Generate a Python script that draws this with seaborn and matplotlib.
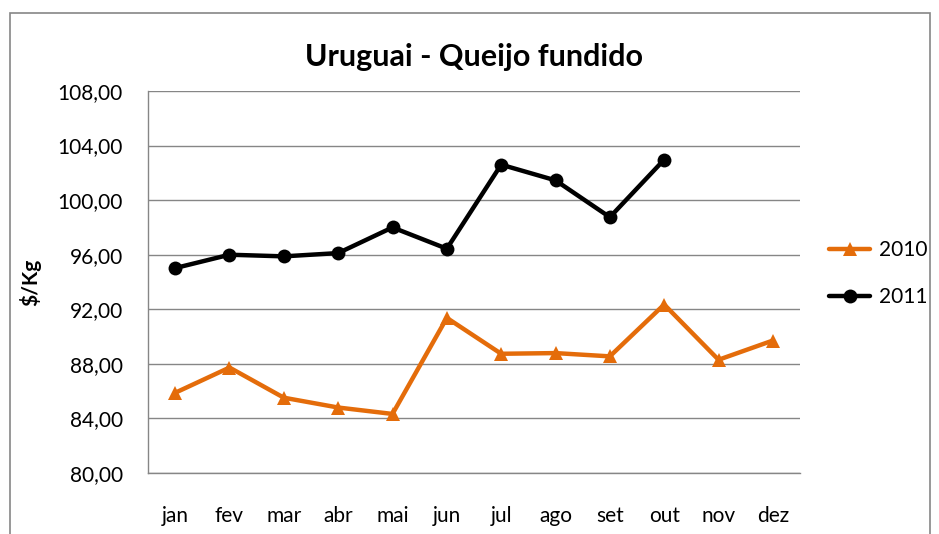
import pandas as pd
import numpy as np
import seaborn as sns
import matplotlib.pyplot as plt
from matplotlib.patches import Rectangle

# -------------------------------
# Data
# -------------------------------
months = ["jan", "fev", "mar", "abr", "mai", "jun", "jul", "ago", "set", "out", "nov", "dez"]
vals_2010 = [85.88, 87.73, 85.52, 84.80, 84.33, 91.37, 88.74, 88.79, 88.55, 92.35, 88.30, 89.71]
vals_2011 = [95.02, 96.00, 95.88, 96.12, 98.00, 96.44, 102.60, 101.45, 98.75, 102.97]
yticks = [80, 84, 88, 92, 96, 100, 104, 108]

rows = []
for i, v in enumerate(vals_2010):
    rows.append({"mes": i, "valor": v, "ano": "2010"})
for i, v in enumerate(vals_2011):
    rows.append({"mes": i, "valor": v, "ano": "2011"})
df = pd.DataFrame(rows)

# -------------------------------
# Plot
# -------------------------------
sns.set_style("white")
plt.rcParams["font.family"] = ["Lato", "DejaVu Sans"]
plt.rcParams["text.color"] = "black"
plt.rcParams["xtick.labelcolor"] = "black"
plt.rcParams["ytick.labelcolor"] = "black"
plt.rcParams["axes.labelcolor"] = "black"

fig = plt.figure(figsize=(9.39, 5.34), dpi=100)
ax = fig.add_axes([0.1576, 0.1142, 0.6944, 0.7154])

sns.lineplot(data=df, x="mes", y="valor", hue="ano", style="ano",
             palette={"2010": "#E46C0A", "2011": "#000000"},
             markers={"2010": "^", "2011": "o"}, dashes=False,
             linewidth=3.2, markersize=10, markeredgewidth=0, ax=ax)

ax.set_xlim(-0.5, 11.5)
ax.set_ylim(80, 108)
ax.set_yticks(yticks)
ax.set_yticklabels([f"{t:.2f}".replace(".", ",") for t in yticks], fontsize=15)
ax.set_xticks(range(len(months)))
ax.set_xticklabels(months, fontsize=15)
ax.set_xticks(np.arange(-0.5, 12, 1), minor=True)
ax.tick_params(axis="x", which="major", length=0, pad=24)
ax.tick_params(axis="x", which="minor", length=6, color="#868686", direction="out")
ax.tick_params(axis="y", length=6, color="#868686", direction="out", pad=12)
ax.yaxis.grid(True, color="#868686", linewidth=1)
ax.set_axisbelow(True)
for s in ["top", "right"]:
    ax.spines[s].set_visible(False)
for s in ["left", "bottom"]:
    ax.spines[s].set_color("#868686")
    ax.spines[s].set_linewidth(1)

ax.set_xlabel("")
ax.set_ylabel("$/Kg", fontsize=15, fontweight="bold", color="black")
ax.yaxis.set_label_coords(-0.163, 0.5)
ax.set_title("Uruguai - Queijo fundido", fontsize=22, fontweight="bold",
             color="black", pad=18)

handles, labels = ax.get_legend_handles_labels()
ax.legend(handles, labels, loc="center left", bbox_to_anchor=(1.044, 0.522),
          frameon=False, fontsize=15, handlelength=2, labelspacing=1.3,
          handletextpad=0.4, borderpad=0, borderaxespad=0)

fig.patches.append(Rectangle((0.0106, -0.02), 0.98, 0.9957, transform=fig.transFigure,
                             fill=False, edgecolor="#868686", linewidth=1.2))

plt.savefig("out.png", dpi=100)
